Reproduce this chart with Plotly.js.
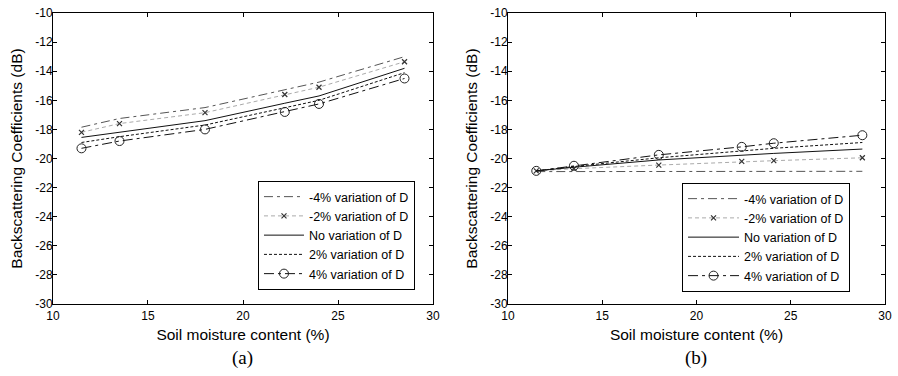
<!DOCTYPE html>
<html>
<head>
<meta charset="utf-8">
<script src="https://cdn.plot.ly/plotly-3.0.1.min.js"></script>
<style>html,body{margin:0;padding:0;background:#fff;}#chart{width:898px;height:376px;}</style>
</head>
<body>
<div id="chart"></div>
<script>
// ---- data ----
const moistureA = [11.5, 13.5, 18, 22.2, 24, 28.5];
const moistureB = [11.5, 13.5, 18, 22.4, 24.1, 28.8];
const seriesNames = ["-4% variation of D", "-2% variation of D", "No variation of D", "2% variation of D", "4% variation of D"];
// panel (a)
const a_m4 = [-17.85, -17.25, -16.5, -15.25, -14.75, -13.0];
const a_m2 = [-18.2, -17.6, -16.85, -15.6, -15.1, -13.35];
const a_0  = [-18.55, -18.2, -17.4, -16.2, -15.7, -13.8];
const a_p2 = [-18.9, -18.5, -17.7, -16.5, -16.0, -14.1];
const a_p4 = [-19.3, -18.8, -18.0, -16.8, -16.25, -14.5];
// panel (b)
const b_m4 = [-20.9, -20.9, -20.92, -20.92, -20.9, -20.88];
const b_m2 = [-20.85, -20.7, -20.45, -20.2, -20.15, -19.95];
const b_0  = [-20.85, -20.6, -20.1, -19.75, -19.65, -19.35];
const b_p2 = [-20.85, -20.55, -19.95, -19.5, -19.3, -18.9];
const b_p4 = [-20.85, -20.5, -19.75, -19.2, -18.95, -18.4];
const xTicks = [10, 15, 20, 25, 30];
const yTicks = [-10, -12, -14, -16, -18, -20, -22, -24, -26, -28, -30];
const xTitle = "Soil moisture content (%)";
const yTitle = "Backscattering Coefficients (dB)";
const panelLabels = ["(a)", "(b)"];

// ---- styles ----
const styles = [
  {line:{color:"#555", width:1, dash:"9px,4px,3px,4px"}, mode:"lines"},
  {line:{color:"#aaa", width:1, dash:"4px,3px"}, mode:"lines+markers", marker:{symbol:"x-thin-open", size:5, color:"#333", line:{width:1.2, color:"#333"}}},
  {line:{color:"#111", width:1}, mode:"lines"},
  {line:{color:"#111", width:1, dash:"3px,2px"}, mode:"lines"},
  {line:{color:"#111", width:1, dash:"10px,4px,3px,4px"}, mode:"lines+markers", marker:{symbol:"circle-open", size:9, color:"#222", line:{width:1, color:"#222"}}}
];

const aData = [a_m4, a_m2, a_0, a_p2, a_p4];
const bData = [b_m4, b_m2, b_0, b_p2, b_p4];
const traces = [];
aData.forEach((ys, i) => traces.push(Object.assign({x: moistureA, y: ys, name: seriesNames[i], xaxis:"x", yaxis:"y", legend:"legend"}, styles[i])));
bData.forEach((ys, i) => traces.push(Object.assign({x: moistureB, y: ys, name: seriesNames[i], xaxis:"x2", yaxis:"y2", legend:"legend2"}, styles[i])));

const font = {family:"Liberation Sans, Arial, Helvetica, sans-serif", size:12, color:"#000"};
function xax(dom, anchor){
  return {domain:dom, anchor:anchor, range:[10,30], tickvals:xTicks, ticktext:xTicks.map(String),
    ticks:"inside", ticklen:4, tickwidth:1, tickcolor:"#000", showline:true, linecolor:"#000", linewidth:1, mirror:"ticks",
    showgrid:false, zeroline:false, tickfont:{size:12}, ticklabelstandoff:1,
    title:{text:xTitle, font:{size:15.5}, standoff:6}};
}
function yax(anchor){
  return {domain:[0.1915, 0.9654], anchor:anchor, range:[-30,-10], tickvals:yTicks, ticktext:yTicks.map(String),
    ticks:"inside", ticklen:4, tickwidth:1, tickcolor:"#000", showline:true, linecolor:"#000", linewidth:1, mirror:"ticks",
    showgrid:false, zeroline:false, tickfont:{size:12}, ticklabelstandoff:-3,
    title:{text:yTitle, font:{size:15.5}, standoff:8}};
}
const legStyle = {bgcolor:"#fff", bordercolor:"#000", borderwidth:1, font:{size:12.5}, xanchor:"left", yanchor:"bottom", tracegroupgap:0};
const layout = {
  width:898, height:376, margin:{l:0, r:0, t:0, b:0}, paper_bgcolor:"#fff", plot_bgcolor:"#fff", font:font,
  showlegend:true,
  xaxis: xax([0.059, 0.4822], "y"),
  yaxis: yax("x"),
  xaxis2: xax([0.5657, 0.9855], "y2"),
  yaxis2: yax("x2"),
  legend: Object.assign({x:0.2873, y:0.2287, itemwidth:40}, legStyle),
  legend2: Object.assign({x:0.7595, y:0.2234, itemwidth:51}, legStyle),
  annotations: [
    {text:panelLabels[0], xref:"paper", yref:"paper", x:0.2706, y:0.048, xanchor:"center", yanchor:"middle", showarrow:false, font:{family:"Liberation Serif, Times New Roman, serif", size:19}},
    {text:panelLabels[1], xref:"paper", yref:"paper", x:0.7756, y:0.048, xanchor:"center", yanchor:"middle", showarrow:false, font:{family:"Liberation Serif, Times New Roman, serif", size:19}}
  ]
};
Plotly.newPlot("chart", traces, layout, {staticPlot:true, displayModeBar:false});
</script>
</body>
</html>
